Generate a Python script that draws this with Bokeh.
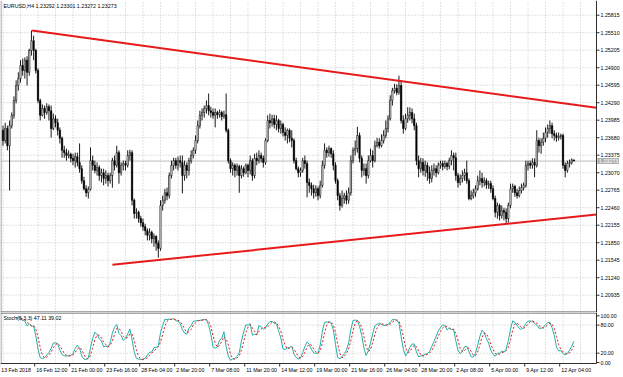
from bokeh.plotting import figure
from bokeh.layouts import column
from bokeh.models import Range1d, ColumnDataSource
from bokeh.core.properties import value
from bokeh.embed import file_html
from bokeh.resources import INLINE

FONT = "Liberation Sans"

# ---------------- data (EURUSD H4) ----------------
first_open = 1.2381
closes = [
 1.2363,1.2384,1.2354,1.2389,1.2407,1.2433,1.2459,1.2471,1.2494,1.2485,
 1.2503,1.2482,1.2520,1.2537,1.2520,1.2485,1.2433,1.2407,1.2419,1.2412,
 1.2422,1.2415,1.2384,1.2401,1.2394,1.2381,1.2367,1.2346,1.2342,1.2337,
 1.2339,1.2332,1.2328,1.2335,1.2325,1.2314,1.2293,1.2279,1.2272,1.2278,
 1.2328,1.2320,1.2311,1.2316,1.2302,1.2307,1.2297,1.2302,1.2293,1.2302,
 1.2328,1.2320,1.2342,1.2307,1.2320,1.2323,1.2320,1.2337,1.2342,1.2259,
 1.2236,1.2238,1.2227,1.2220,1.2213,1.2206,1.2198,1.2203,1.2192,1.2196,
 1.2184,1.2175,1.2250,1.2259,1.2272,1.2267,1.2302,1.2320,1.2328,1.2320,
 1.2328,1.2325,1.2302,1.2320,1.2311,1.2328,1.2337,1.2346,1.2363,1.2389,
 1.2407,1.2412,1.2419,1.2424,1.2415,1.2412,1.2407,1.2412,1.2408,1.2412,
 1.2405,1.2408,1.2381,1.2328,1.2314,1.2320,1.2311,1.2318,1.2302,1.2314,
 1.2307,1.2320,1.2311,1.2328,1.2302,1.2332,1.2328,1.2337,1.2332,1.2325,
 1.2363,1.2398,1.2394,1.2401,1.2391,1.2398,1.2384,1.2391,1.2377,1.2372,
 1.2381,1.2367,1.2363,1.2328,1.2314,1.2307,1.2311,1.2328,1.2323,1.2290,
 1.2285,1.2279,1.2272,1.2279,1.2267,1.2285,1.2320,1.2346,1.2342,1.2349,
 1.2340,1.2320,1.2293,1.2267,1.2250,1.2262,1.2267,1.2259,1.2272,1.2328,
 1.2346,1.2349,1.2372,1.2332,1.2311,1.2314,1.2302,1.2328,1.2337,1.2328,
 1.2354,1.2360,1.2354,1.2363,1.2372,1.2384,1.2401,1.2433,1.2450,1.2454,
 1.2447,1.2459,1.2398,1.2384,1.2401,1.2407,1.2412,1.2401,1.2389,1.2328,
 1.2314,1.2325,1.2311,1.2320,1.2307,1.2297,1.2311,1.2314,1.2307,1.2320,
 1.2323,1.2318,1.2323,1.2318,1.2328,1.2337,1.2333,1.2302,1.2290,1.2297,
 1.2302,1.2307,1.2293,1.2262,1.2267,1.2272,1.2279,1.2293,1.2297,1.2290,
 1.2293,1.2286,1.2288,1.2279,1.2262,1.2238,1.2250,1.2232,1.2241,1.2238,
 1.2227,1.2250,1.2279,1.2283,1.2272,1.2267,1.2276,1.2281,1.2285,1.2320,
 1.2323,1.2320,1.2325,1.2320,1.2363,1.2354,1.2360,1.2367,1.2377,1.2384,
 1.2389,1.2375,1.2372,1.2368,1.2370,1.2372,1.2320,1.2311,1.2323,1.2325,
 1.23292,1.23273]
highs = [
 1.2389,1.2394,1.2389,1.2398,1.2412,1.2440,1.2468,1.2482,1.2503,1.2506,
 1.2508,1.2510,1.2523,1.2555,1.2546,1.2523,1.2489,1.2436,1.2426,1.2424,
 1.2428,1.2426,1.2424,1.2410,1.2407,1.2401,1.2386,1.2370,1.2354,1.2349,
 1.2346,1.2342,1.2340,1.2342,1.2342,1.2358,1.2320,1.2300,1.2285,1.2283,
 1.2351,1.2337,1.2328,1.2325,1.2320,1.2314,1.2314,1.2311,1.2307,1.2307,
 1.2333,1.2337,1.2354,1.2346,1.2325,1.2328,1.2328,1.2346,1.2347,1.2346,
 1.2262,1.2245,1.2241,1.2232,1.2227,1.2218,1.2210,1.2210,1.2206,1.2201,
 1.2198,1.2189,1.2259,1.2267,1.2279,1.2281,1.2307,1.2328,1.2333,1.2333,
 1.2335,1.2337,1.2337,1.2328,1.2325,1.2333,1.2346,1.2351,1.2372,1.2398,
 1.2415,1.2419,1.2424,1.2433,1.2445,1.2422,1.2419,1.2419,1.2415,1.2417,
 1.2415,1.2415,1.2445,1.2384,1.2332,1.2325,1.2323,1.2323,1.2321,1.2320,
 1.2318,1.2323,1.2323,1.2337,1.2332,1.2340,1.2342,1.2346,1.2342,1.2337,
 1.2367,1.2407,1.2410,1.2408,1.2408,1.2407,1.2401,1.2398,1.2394,1.2386,
 1.2384,1.2384,1.2381,1.2367,1.2333,1.2318,1.2316,1.2333,1.2337,1.2328,
 1.2297,1.2290,1.2286,1.2285,1.2283,1.2293,1.2328,1.2358,1.2351,1.2354,
 1.2351,1.2346,1.2325,1.2297,1.2272,1.2276,1.2272,1.2276,1.2281,1.2337,
 1.2351,1.2363,1.2387,1.2377,1.2337,1.2323,1.2323,1.2337,1.2349,1.2346,
 1.2363,1.2368,1.2367,1.2374,1.2381,1.2398,1.2407,1.2442,1.2455,1.2462,
 1.2461,1.2476,1.2468,1.2407,1.2410,1.2421,1.2421,1.2419,1.2410,1.2394,
 1.2337,1.2333,1.2332,1.2328,1.2325,1.2318,1.2320,1.2323,1.2320,1.2325,
 1.2328,1.2328,1.2328,1.2326,1.2333,1.2346,1.2342,1.2342,1.2307,1.2304,
 1.2311,1.2314,1.2328,1.2297,1.2276,1.2279,1.2285,1.2302,1.2311,1.2307,
 1.2299,1.2297,1.2293,1.2293,1.2285,1.2267,1.2255,1.2253,1.2250,1.2246,
 1.2245,1.2255,1.2288,1.2288,1.2286,1.2279,1.2283,1.2288,1.2290,1.2328,
 1.2328,1.2328,1.2332,1.2332,1.2381,1.2368,1.2367,1.2377,1.2386,1.2391,
 1.2398,1.2394,1.2381,1.2377,1.2377,1.2375,1.2375,1.2325,1.2328,1.2330,
 1.2332,1.23301]
lows = [
 1.2354,1.2358,1.2346,1.2276,1.2384,1.2401,1.2428,1.2450,1.2464,1.2476,
 1.2471,1.2459,1.2476,1.2511,1.2503,1.2480,1.2428,1.2398,1.2405,1.2401,
 1.2408,1.2398,1.2368,1.2381,1.2386,1.2372,1.2358,1.2333,1.2333,1.2328,
 1.2332,1.2325,1.2320,1.2316,1.2318,1.2307,1.2288,1.2276,1.2265,1.2262,
 1.2276,1.2311,1.2306,1.2302,1.2293,1.2290,1.2285,1.2288,1.2283,1.2288,
 1.2281,1.2311,1.2316,1.2288,1.2302,1.2311,1.2311,1.2316,1.2328,1.2250,
 1.2227,1.2227,1.2220,1.2213,1.2206,1.2198,1.2189,1.2189,1.2184,1.2178,
 1.2171,1.2159,1.2171,1.2241,1.2253,1.2259,1.2262,1.2297,1.2311,1.2314,
 1.2311,1.2316,1.2271,1.2293,1.2297,1.2302,1.2323,1.2332,1.2340,1.2358,
 1.2384,1.2398,1.2403,1.2410,1.2407,1.2403,1.2401,1.2386,1.2401,1.2403,
 1.2398,1.2401,1.2377,1.2323,1.2307,1.2302,1.2299,1.2302,1.2272,1.2297,
 1.2300,1.2304,1.2299,1.2304,1.2293,1.2297,1.2320,1.2323,1.2325,1.2316,
 1.2321,1.2360,1.2384,1.2387,1.2384,1.2381,1.2377,1.2375,1.2370,1.2363,
 1.2358,1.2360,1.2351,1.2323,1.2311,1.2299,1.2300,1.2307,1.2314,1.2264,
 1.2272,1.2267,1.2262,1.2265,1.2259,1.2262,1.2281,1.2314,1.2333,1.2335,
 1.2333,1.2311,1.2288,1.2259,1.2241,1.2246,1.2253,1.2252,1.2253,1.2267,
 1.2323,1.2337,1.2342,1.2325,1.2299,1.2302,1.2288,1.2297,1.2325,1.2316,
 1.2325,1.2351,1.2349,1.2351,1.2358,1.2367,1.2377,1.2398,1.2424,1.2445,
 1.2442,1.2443,1.2393,1.2375,1.2381,1.2394,1.2398,1.2393,1.2381,1.2320,
 1.2299,1.2307,1.2302,1.2300,1.2293,1.2288,1.2290,1.2302,1.2299,1.2304,
 1.2314,1.2311,1.2314,1.2311,1.2313,1.2320,1.2311,1.2293,1.2281,1.2285,
 1.2290,1.2293,1.2288,1.2259,1.2259,1.2262,1.2265,1.2276,1.2285,1.2281,
 1.2283,1.2279,1.2279,1.2272,1.2259,1.2229,1.2227,1.2224,1.2227,1.2224,
 1.2218,1.2220,1.2245,1.2272,1.2265,1.2262,1.2264,1.2271,1.2276,1.2281,
 1.2311,1.2314,1.2314,1.2299,1.2316,1.2342,1.2340,1.2354,1.2360,1.2368,
 1.2375,1.2367,1.2363,1.2361,1.2363,1.2365,1.2314,1.2299,1.2307,1.2316,
 1.2321,1.23272]

price_ticks = [1.25815, 1.25510, 1.25205, 1.24900, 1.24595, 1.24290, 1.23985, 1.23680,
               1.23375, 1.23070, 1.22765, 1.22460, 1.22155, 1.21850, 1.21545, 1.21240, 1.20935]
time_labels = ["13 Feb 2018", "16 Feb 12:00", "21 Feb 00:00", "23 Feb 16:00", "28 Feb 04:00",
               "2 Mar 20:00", "7 Mar 08:00", "11 Mar 20:00", "14 Mar 12:00", "19 Mar 00:00",
               "21 Mar 16:00", "26 Mar 04:00", "28 Mar 20:00", "2 Apr 08:00", "5 Apr 00:00",
               "9 Apr 12:00", "12 Apr 04:00"]
time_label_bars = [0, 16, 32, 48, 64, 80, 96, 112, 128, 144, 160, 176, 192, 208, 224, 240, 256]

# trend lines (bar index, price); second point is where each meets the price scale
upper_x = [13.3, 271.3]
upper_y = [1.25548, 1.24201]
lower_x = [50.0, 271.3]
lower_y = [1.21465, 1.22341]

bid = 1.23273
bid_text = "1.23273"
header = "EURUSD,H4 1.23292 1.23301 1.23272 1.23273"
stoch_text = "Stoch(5,3,3) 47.11 39.02"
stoch_levels = [100, 80, 20, 0]
stoch_level_text = ["100.00", "80.00", "20.00", "0.00"]

# ---------------- derived ----------------
N = len(closes)
opens = [first_open] + closes[:-1]
idx = list(range(N))
up = [c >= o for o, c in zip(opens, closes)]
def body_src(flag):
    sel = [i for i in idx if up[i] == flag]
    return ColumnDataSource(dict(x=sel,
                                 top=[max(opens[i], closes[i]) for i in sel],
                                 bottom=[min(opens[i], closes[i]) for i in sel]))
src_up = body_src(True)
src_dn = body_src(False)
src_w = ColumnDataSource(dict(x=idx, h=highs, l=lows))

# Stochastic (5,3,3)
nan = float("nan")
kp, sl, dp = 5, 3, 3
num = [None] * N
den = [None] * N
for i in range(kp - 1, N):
    ll = min(lows[i - kp + 1:i + 1]); hh = max(highs[i - kp + 1:i + 1])
    num[i] = closes[i] - ll; den[i] = hh - ll
K = [nan] * N
for i in range(kp - 1 + sl - 1, N):
    s1 = sum(num[i - sl + 1:i + 1]); s2 = sum(den[i - sl + 1:i + 1])
    K[i] = 100.0 * s1 / s2 if s2 > 0 else 100.0
D = [nan] * N
for i in range(kp - 1 + sl - 1 + dp - 1, N):
    D[i] = sum(K[i - dp + 1:i + 1]) / dp

# ---------------- geometry helpers ----------------
W, H1, H2 = 623, 312, 65
PXB = 2.1875                       # pixels per bar
def xd(px):                        # canvas x pixel -> bar units
    return (px - 2.5) / PXB
AX = xd(596)                       # price-scale position
PPP = 5738.0                       # pixels per price unit
y_top = 1.25815 + 14.7 / PPP
y_bot = y_top - H1 / PPP
def y1(py):
    return y_top - py / PPP
S_PX = 0.467
s_top = 100 + 3.3 / S_PX
def y2(py):
    return s_top - (py - H1) / S_PX
s_bot = y2(H1 + H2)

GRID = "#c4c4c4"
AXC = "#303030"
FS = value("5.3px")
TF = value(FONT)
grid_bars = [b for b in range(0, N + 16, 8) if b < AX]

# ---------------- main price panel ----------------
p1 = figure(frame_width=W, frame_height=H1, output_backend="svg", toolbar_location=None,
            x_range=Range1d(xd(0), xd(W)), y_range=Range1d(y_bot, y_top),
            x_axis_location=None, y_axis_location=None,
            min_border=0, outline_line_color=None)
p1.xgrid.visible = False
p1.ygrid.visible = False

p1.segment(x0=[xd(0)] * len(price_ticks), x1=[AX] * len(price_ticks), y0=price_ticks, y1=price_ticks,
           line_color=GRID, line_width=1, line_dash="1 2")
p1.segment(x0=grid_bars, x1=grid_bars, y0=[y1(H1)] * len(grid_bars), y1=[y_top] * len(grid_bars),
           line_color=GRID, line_width=1, line_dash="1 2")
p1.segment(x0=[xd(0)], x1=[AX], y0=[bid], y1=[bid], line_color="#bcbcbc", line_width=1)

p1.segment(x0="x", y0="l", x1="x", y1="h", source=src_w, line_color="#000000", line_width=0.9)
p1.vbar(x="x", top="top", bottom="bottom", width=0.62, source=src_up,
        fill_color="#ffffff", line_color="#000000", line_width=0.6)
p1.vbar(x="x", top="top", bottom="bottom", width=0.62, source=src_dn,
        fill_color="#000000", line_color="#000000", line_width=0.6)
p1.line(upper_x, upper_y, line_color="#e8191b", line_width=2)
p1.line(lower_x, lower_y, line_color="#e8191b", line_width=2)

# frame lines and price scale
p1.segment(x0=[xd(0.5)], x1=[xd(0.5)], y0=[y_bot], y1=[y_top], line_color="#909090", line_width=1)
p1.segment(x0=[xd(0)], x1=[AX], y0=[y1(H1 - 0.5)], y1=[y1(H1 - 0.5)], line_color="#505050", line_width=1)
p1.segment(x0=[AX], x1=[AX], y0=[y_bot], y1=[y_top], line_color=AXC, line_width=1)
p1.segment(x0=[AX] * len(price_ticks), x1=[AX + 3 / PXB] * len(price_ticks),
           y0=price_ticks, y1=price_ticks, line_color=AXC, line_width=1)
p1.text(x=[AX + 4 / PXB] * len(price_ticks), y=price_ticks,
        text=["%.5f" % t for t in price_ticks], text_font=TF, text_font_size=FS,
        text_baseline="middle", text_align="left", text_color="#000000")
p1.quad(left=[AX + 0.8 / PXB], right=[AX + 22.5 / PXB], bottom=[bid - 3 / PPP], top=[bid + 3 / PPP],
        fill_color="#b0b0b0", line_color=None)
p1.text(x=[AX + 2.5 / PXB], y=[bid], text=[bid_text], text_font=TF, text_font_size=FS,
        text_baseline="middle", text_align="left", text_color="#ffffff")
p1.text(x=[xd(3)], y=[y1(5)], text=[header], text_font=TF, text_font_size=FS,
        text_baseline="middle", text_align="left", text_color="#000000")

# ---------------- stochastic panel ----------------
p2 = figure(frame_width=W, frame_height=H2, output_backend="svg", toolbar_location=None,
            x_range=p1.x_range, y_range=Range1d(s_bot, s_top),
            x_axis_location=None, y_axis_location=None,
            min_border=0, outline_line_color=None)
p2.xgrid.visible = False
p2.ygrid.visible = False
p2.segment(x0=grid_bars, x1=grid_bars, y0=[y2(363)] * len(grid_bars), y1=[y2(H1)] * len(grid_bars),
           line_color=GRID, line_width=1, line_dash="1 2")
p2.segment(x0=[xd(0)] * 2, x1=[AX] * 2, y0=[80, 20], y1=[80, 20],
           line_color=GRID, line_width=1, line_dash="1 2")
p2.line(idx, K, line_color="#20b2aa", line_width=1)
p2.line(idx, D, line_color="#e8191b", line_width=1, line_dash="2 2")

p2.segment(x0=[xd(0.5)], x1=[xd(0.5)], y0=[y2(363)], y1=[y2(H1)], line_color="#909090", line_width=1)
p2.segment(x0=[xd(0)], x1=[AX], y0=[y2(H1 + 0.5)], y1=[y2(H1 + 0.5)], line_color="#505050", line_width=1)
p2.segment(x0=[xd(0)], x1=[AX], y0=[y2(363)], y1=[y2(363)], line_color=AXC, line_width=1)
p2.segment(x0=[AX], x1=[AX], y0=[y2(363)], y1=[y2(H1)], line_color=AXC, line_width=1)
p2.segment(x0=[AX] * 4, x1=[AX + 3 / PXB] * 4, y0=stoch_levels, y1=stoch_levels,
           line_color=AXC, line_width=1)
p2.text(x=[AX + 4 / PXB] * 4, y=stoch_levels, text=stoch_level_text, text_font=TF,
        text_font_size=FS, text_baseline="middle", text_align="left", text_color="#000000")
p2.text(x=[xd(3)], y=[y2(317.7)], text=[stoch_text], text_font=TF, text_font_size=FS,
        text_baseline="middle", text_align="left", text_color="#000000")

# time scale
tick_x = [b - 3.3 / PXB for b in time_label_bars]
p2.segment(x0=tick_x, x1=tick_x, y0=[y2(363)] * len(tick_x), y1=[y2(366)] * len(tick_x),
           line_color=AXC, line_width=1)
p2.text(x=[b - 1.8 / PXB for b in time_label_bars], y=[y2(369.5)] * len(time_label_bars),
        text=time_labels, text_font=TF, text_font_size=FS,
        text_baseline="middle", text_align="left", text_color="#000000")

layout = column(p1, p2, spacing=0)
open("out.html", "w").write(file_html(layout, INLINE))
